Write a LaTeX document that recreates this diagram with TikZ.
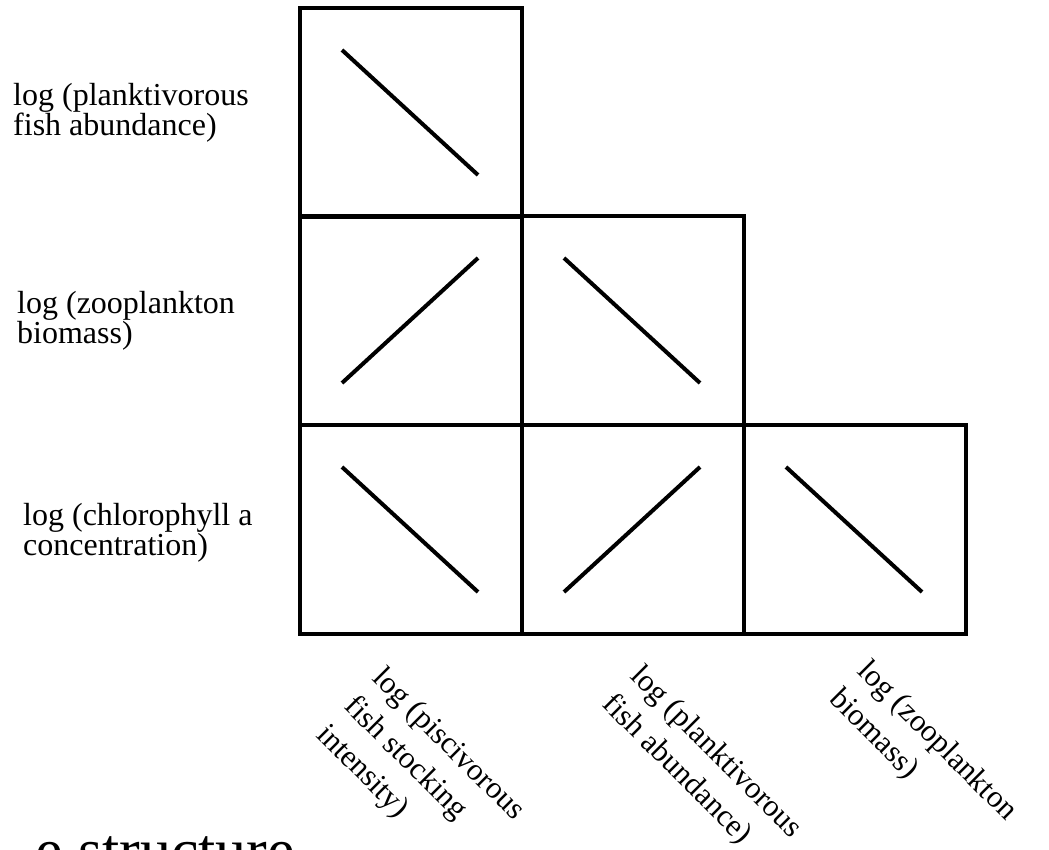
\documentclass[tikz,border=0pt]{standalone}
\usepackage{fontspec}
\setmainfont{Liberation Serif}
\usepackage{tikz}
\tikzset{
 cx/.style={rectangle,draw,line width=4pt,inner sep=0pt,anchor=north west,minimum width=222pt,minimum height=209pt},
 sl/.style={line width=4pt},
 yl/.style={anchor=north west,inner sep=0pt,align=left,font=\fontsize{32}{27}\selectfont},
 xl/.style={anchor=north west,inner sep=0pt,align=left,rotate=-45,font=\fontsize{31}{40}\selectfont}}

\begin{document}
\begin{tikzpicture}[x=1pt,y=-1pt]
 \clip (0,0) rectangle (1049,849);
 \node[cx] (pf) at (298,6) {};
 \node[cx] (zp) at (298,214) {};
 \node[cx] (zf) at (520,214) {};
 \node[cx] (cp) at (298,423) {};
 \node[cx] (cf) at (520,423) {};
 \node[cx] (cz) at (742,423) {};
 \draw[sl] ([shift={(44,44)}]pf.north west)--([shift={(-46,-44)}]pf.south east);
 \draw[sl] ([shift={(44,-44)}]zp.south west)--([shift={(-46,44)}]zp.north east);
 \draw[sl] ([shift={(44,44)}]zf.north west)--([shift={(-46,-44)}]zf.south east);
 \draw[sl] ([shift={(44,44)}]cp.north west)--([shift={(-46,-44)}]cp.south east);
 \draw[sl] ([shift={(44,-44)}]cf.south west)--([shift={(-46,44)}]cf.north east);
 \draw[sl] ([shift={(44,44)}]cz.north west)--([shift={(-46,-44)}]cz.south east);
 \node[yl] (ypf) at (13,83) {log (planktivorous\\fish abundance)};
 \node[yl] (yzp) at (17,291) {log (zooplankton\\biomass)};
 \node[yl] (ycc) at (23,503) {log (chlorophyll a\\concentration)};
 \node[xl] (xps) at (387,664) {log (piscivorous\\fish stocking\\intensity)};
 \node[xl] (xpf) at (645,662) {log (planktivorous\\fish abundance)};
 \node[xl] (xzp) at (872,657) {log (zooplankton\\biomass)};
 \node[anchor=base west,inner sep=0pt,font=\fontsize{62}{70}\selectfont] (cut) at (35,871) {e structure};
\end{tikzpicture}
\end{document}
